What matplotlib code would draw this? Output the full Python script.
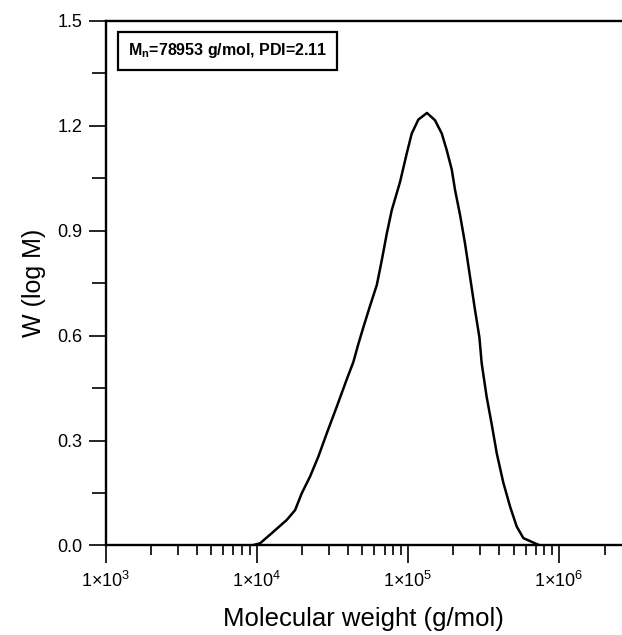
import numpy as np
import matplotlib
matplotlib.use("Agg")
import matplotlib.pyplot as plt
from matplotlib.ticker import FixedLocator, LogLocator, MultipleLocator, FuncFormatter

plt.rcParams['font.family'] = ['Liberation Sans', 'DejaVu Sans']
plt.rcParams['mathtext.fontset'] = 'custom'
plt.rcParams['mathtext.rm'] = 'Liberation Sans'
plt.rcParams['mathtext.it'] = 'Liberation Sans:italic'
plt.rcParams['mathtext.bf'] = 'Liberation Sans:bold'

# molecular weight distribution
log_mw = [3.966, 4.021, 4.109, 4.198, 4.253, 4.297, 4.352, 4.407, 4.463, 4.529,
          4.595, 4.639, 4.673, 4.705, 4.749, 4.794, 4.827, 4.860, 4.893, 4.948,
          4.992, 5.025, 5.069, 5.126, 5.179, 5.224, 5.257, 5.290, 5.312, 5.345,
          5.378, 5.411, 5.444, 5.473, 5.488, 5.521, 5.555, 5.588, 5.631, 5.676,
          5.720, 5.764, 5.852, 5.874]
w_logm = [0.0, 0.006, 0.039, 0.073, 0.101, 0.149, 0.197, 0.254, 0.321, 0.397,
          0.475, 0.525, 0.578, 0.624, 0.685, 0.745, 0.816, 0.892, 0.959, 1.040,
          1.121, 1.178, 1.218, 1.237, 1.216, 1.178, 1.130, 1.075, 1.016, 0.945,
          0.863, 0.768, 0.673, 0.595, 0.521, 0.425, 0.345, 0.263, 0.180, 0.111,
          0.054, 0.021, 0.004, 0.0]

y_ticks = [0.0, 0.3, 0.6, 0.9, 1.2, 1.5]
x_ticks = [1e3, 1e4, 1e5, 1e6]
note = r'M$_\mathbf{n}$=78953 g/mol, PDI=2.11'

mw = 10 ** np.array(log_mw)

fig = plt.figure(figsize=(6.22, 6.35), dpi=100)
ax = fig.add_axes([0.170, 0.141, 0.830, 0.826])

ax.plot(mw, w_logm, color='black', lw=1.8)

ax.set_xscale('log')
ax.set_xlim(1e3, 2.61e6)
ax.set_ylim(0, 1.5)

ax.xaxis.set_major_locator(FixedLocator(x_ticks))
ax.xaxis.set_minor_locator(LogLocator(base=10, subs=np.arange(2, 10), numticks=20))
ax.xaxis.set_major_formatter(FuncFormatter(
    lambda v, p: r'$\mathregular{1{\times}10^{%d}}$' % round(np.log10(v))))
ax.xaxis.set_minor_formatter(FuncFormatter(lambda v, p: ''))

ax.yaxis.set_major_locator(FixedLocator(y_ticks))
ax.yaxis.set_minor_locator(MultipleLocator(0.15))
ax.set_yticklabels(['%.1f' % t for t in y_ticks])

ax.spines['right'].set_visible(False)
for s in ['left', 'bottom', 'top']:
    ax.spines[s].set_linewidth(1.7)

ax.tick_params(axis='x', which='major', direction='out', length=13, width=1.2,
               labelsize=13, pad=5)
ax.tick_params(axis='x', which='minor', direction='out', length=7.5, width=1.2)
ax.tick_params(axis='y', which='major', direction='out', length=12, width=1.2,
               labelsize=13, pad=5)
ax.tick_params(axis='y', which='minor', direction='out', length=10, width=1.2)

ax.set_xlabel('Molecular weight (g/mol)', fontsize=18.5, labelpad=12)
ax.set_ylabel('W (log M)', fontsize=18, labelpad=8)

ax.text(0.236, 0.943, note, transform=ax.transAxes, ha='center', va='center',
        fontsize=11.5, fontweight='bold',
        bbox=dict(boxstyle='square,pad=0.6', fc='white', ec='black', lw=1.6))

fig.savefig('out.png', dpi=100)
